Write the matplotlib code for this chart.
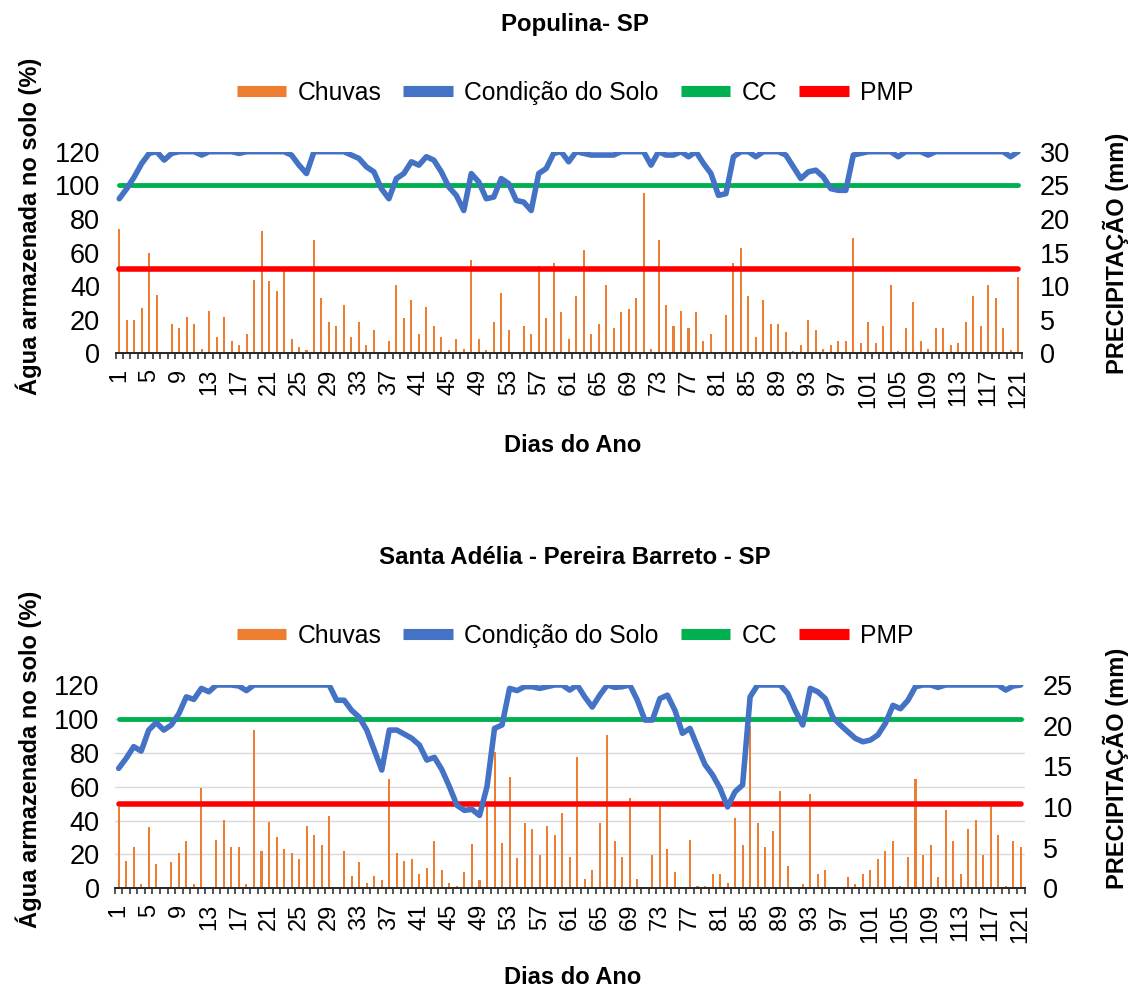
"""
Balanço hídrico diário: chuva e água armazenada no solo, dois locais
"""
import numpy as np
import matplotlib
matplotlib.use("Agg")
import matplotlib.pyplot as plt
from matplotlib.lines import Line2D

plt.rcParams["font.family"] = ["Liberation Sans", "DejaVu Sans"]

dias = np.arange(1, 122)
rotulos_dias = dias[::4]

# Populina - SP
chuva_populina = [
    18.5, 4.9, 4.9, 6.8, 15.0, 8.7, 0, 4.3, 3.7, 5.4,
    4.3, 0.7, 6.3, 2.5, 5.4, 1.9, 1.3, 2.8, 10.9, 18.2,
    10.7, 9.2, 12.2, 2.2, 1.0, 0.5, 16.8, 8.3, 4.6, 4.0,
    7.2, 2.5, 4.6, 1.3, 3.4, 0, 1.9, 10.1, 5.2, 8.0,
    2.8, 6.9, 4.0, 2.5, 0.5, 2.2, 0.7, 13.9, 2.2, 0.5,
    4.6, 8.9, 3.4, 0, 4.0, 2.8, 13.0, 5.2, 13.5, 6.1,
    2.2, 8.6, 15.3, 2.8, 4.3, 10.1, 3.7, 6.1, 6.6, 8.3,
    23.8, 0.7, 16.8, 7.2, 4.0, 6.3, 3.7, 6.1, 1.9, 2.8,
    0, 5.7, 13.5, 15.6, 8.6, 2.5, 8.0, 4.3, 4.3, 3.1,
    0.3, 1.3, 4.9, 3.4, 0.7, 1.3, 1.9, 1.9, 17.1, 1.6,
    4.6, 1.6, 4.0, 10.1, 0.3, 3.7, 7.7, 1.9, 0.7, 3.7,
    3.7, 1.3, 1.6, 4.6, 8.6, 4.0, 10.1, 8.3, 3.7, 0.5,
    11.3,
]
solo_populina = [
    92, 98, 105, 113, 119, 120, 115, 119, 120, 120,
    120, 118, 120, 120, 120, 120, 119, 120, 120, 120,
    120, 120, 120, 118, 112, 107, 120, 120, 120, 120,
    120, 118, 116, 111, 108, 98, 92, 104, 107, 114,
    112, 117, 115, 108, 99, 94, 85, 107, 102, 92,
    93, 104, 101, 91, 90, 85, 107, 110, 119, 120,
    114, 120, 119, 118, 118, 118, 118, 120, 120, 120,
    120, 112, 120, 118, 118, 120, 117, 120, 113, 107,
    94, 95, 117, 120, 120, 117, 120, 120, 120, 118,
    111, 104, 108, 109, 105, 98, 97, 97, 118, 119,
    120, 120, 120, 120, 117, 120, 120, 120, 118, 120,
    120, 120, 120, 120, 120, 120, 120, 120, 120, 117,
    120,
]

# Santa Adélia - Pereira Barreto - SP
chuva_santa_adelia = [
    10.0, 3.4, 5.1, 0.5, 7.5, 3.0, 0, 3.2, 4.4, 5.8,
    0.5, 12.3, 0, 6.0, 8.4, 5.1, 5.1, 0.5, 19.5, 4.6,
    8.2, 6.3, 4.8, 4.4, 3.6, 7.7, 6.5, 5.3, 8.9, 0,
    4.6, 1.5, 3.2, 0.7, 1.5, 1.0, 13.5, 4.4, 3.4, 3.6,
    1.7, 2.5, 5.8, 2.2, 0.7, 0.3, 2.0, 5.4, 1.0, 10.0,
    16.8, 5.6, 13.7, 3.7, 8.0, 7.3, 4.1, 7.7, 6.6, 9.2,
    3.9, 16.1, 1.2, 2.2, 8.0, 18.8, 5.8, 3.9, 11.1, 1.2,
    0, 4.1, 10.1, 4.8, 2.0, 0, 6.0, 0.3, 0.3, 1.7,
    1.7, 0.7, 8.7, 5.3, 20.0, 8.0, 5.1, 7.0, 12.0, 2.7,
    0, 0.5, 11.6, 1.7, 2.2, 0, 0, 1.4, 0.5, 1.7,
    2.2, 3.6, 4.6, 5.8, 0.3, 3.9, 13.5, 4.1, 5.3, 1.4,
    9.6, 5.8, 1.7, 7.3, 8.4, 4.1, 10.1, 6.5, 0.3, 5.8,
    5.1,
]
solo_santa_adelia = [
    70.8, 76.7, 83.6, 81, 93.4, 97.8, 93.4, 96.4, 103, 113,
    111.5, 118, 116, 120, 120, 120, 119.4, 116.7, 120, 120,
    120, 120, 120, 120, 120, 120, 120, 120, 120, 111,
    111, 105, 101, 93.4, 81.6, 69.8, 93.4, 93.4, 91, 88.5,
    84.6, 75.7, 77.3, 70, 60, 49, 46, 46.6, 43, 60,
    94.4, 96.4, 118, 116.7, 119, 119, 118, 119, 120, 120,
    117, 120, 113, 107, 114, 120, 118.6, 119, 120, 111,
    99.3, 99.3, 112, 114, 105, 91.5, 94.4, 83.6, 73, 67,
    59, 48, 57, 61, 113, 120, 120, 120, 120, 115,
    105, 96.4, 118, 116, 112, 101, 96.4, 92.4, 88.5, 86.5,
    87.5, 90.5, 97.4, 108, 106, 111, 119, 120, 120, 118.6,
    120, 120, 120, 120, 120, 120, 120, 120, 117, 119.4,
    120,
]

CC = 100
PMP = 50

COR_CHUVA = "#ED7D31"
COR_SOLO = "#4472C4"
COR_CC = "#00B050"
COR_PMP = "#FF0000"
COR_GRADE = "#D9D9D9"

W, H = 1133, 988


def fx(px):
    return px / W


def fy(py):
    return 1 - py / H


def painel(fig, ret, titulo, chuva, solo, prec_max, y_tit, y_leg, y_xlab, y_ylab, y_ylab2):
    ax = fig.add_axes(ret)
    ax2 = ax.twinx()
    ax.set_zorder(ax2.get_zorder() + 1)
    ax.patch.set_visible(False)

    # chuvas (eixo da direita)
    ax2.bar(dias, chuva, width=0.27, color=COR_CHUVA, zorder=2)
    ax2.set_ylim(0, prec_max)
    ax2.set_yticks(np.arange(0, prec_max + 1, 5))
    ax2.set_yticks(np.linspace(0, prec_max, 7), minor=True)
    ax2.grid(which="minor", axis="y", color=COR_GRADE, lw=1.0)
    ax2.set_axisbelow(True)
    ax2.tick_params(axis="y", which="both", length=0, pad=13, labelsize=19.5)

    # água no solo e limites (eixo da esquerda)
    ax.plot(dias, np.full(len(dias), CC), color=COR_CC, lw=3.5, solid_capstyle="round")
    ax.plot(dias, np.full(len(dias), PMP), color=COR_PMP, lw=4, solid_capstyle="round")
    ax.plot(dias, solo, color=COR_SOLO, lw=4, solid_joinstyle="round",
            solid_capstyle="round")
    ax.set_ylim(0, 120)
    ax.set_yticks(np.arange(0, 121, 20))
    ax.set_xlim(0.5, len(dias) + 0.5)
    ax.set_xticks(rotulos_dias)
    ax.set_xticks(np.arange(0.5, len(dias) + 1), minor=True)
    ax.tick_params(axis="y", length=0, pad=11, labelsize=19.5)
    ax.tick_params(axis="x", which="major", length=0, pad=11, labelsize=17,
                   labelrotation=90)
    ax.tick_params(axis="x", which="minor", length=4.5, width=1.1,
                   direction="out", color="#262626")

    for lado in ["top", "left", "right"]:
        ax.spines[lado].set_visible(False)
    for s in ax2.spines.values():
        s.set_visible(False)
    ax.spines["bottom"].set_color("#262626")
    ax.spines["bottom"].set_linewidth(1.4)

    cx = fx(575)
    fig.text(cx, fy(y_tit), titulo, ha="center", va="center",
             fontsize=17.3, fontweight="bold")
    fig.text(cx - 0.002, fy(y_xlab), "Dias do Ano", ha="center", va="center",
             fontsize=17, fontweight="bold")
    fig.text(fx(29), fy(y_ylab), "Água armazenada no solo (%)", rotation=90,
             ha="center", va="center", fontsize=17, fontweight="bold")
    fig.text(fx(1116), fy(y_ylab2), "PRECIPITAÇÃO (mm)", rotation=90,
             ha="center", va="center", fontsize=17, fontweight="bold")

    alcas = [Line2D([], [], color=c, lw=8, solid_capstyle="butt")
             for c in (COR_CHUVA, COR_SOLO, COR_CC, COR_PMP)]
    fig.legend(alcas, ["Chuvas", "Condição do Solo", "CC", "PMP"],
               loc="center", bbox_to_anchor=(cx, fy(y_leg)), ncol=4,
               frameon=False, fontsize=17.8, handlelength=2.0,
               handletextpad=0.45, columnspacing=0.9)
    return ax


fig = plt.figure(figsize=(W / 100, H / 100), dpi=100)

painel(fig, [fx(115.5), fy(353.3), fx(906.3), 201.6 / H], "Populina- SP",
       chuva_populina, solo_populina, 30,
       y_tit=25, y_leg=93, y_xlab=445, y_ylab=226, y_ylab2=253)
painel(fig, [fx(114.9), fy(888.3), fx(909.6), 203.3 / H],
       "Santa Adélia - Pereira Barreto - SP",
       chuva_santa_adelia, solo_santa_adelia, 25,
       y_tit=558, y_leg=636, y_xlab=977, y_ylab=759, y_ylab2=768)

fig.savefig("out.png", dpi=100)
